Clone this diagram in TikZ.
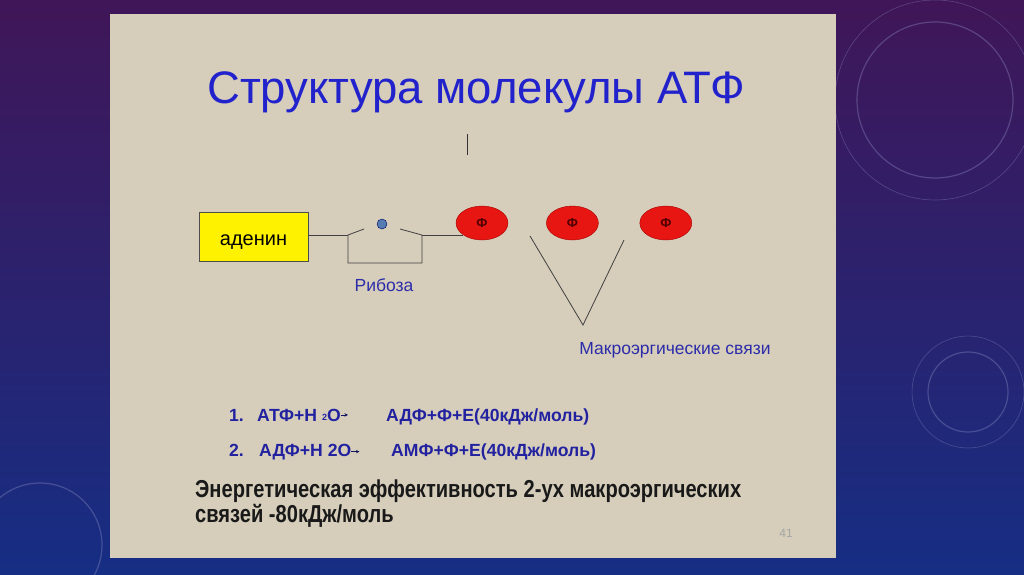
\documentclass[tikz,border=0pt]{standalone}
\usepackage{fontspec}
\setmainfont{Liberation Sans}
\newfontfamily\narrowfont[FakeStretch=0.82]{Liberation Sans}
\usetikzlibrary{positioning,shapes.geometric,arrows.meta}

\definecolor{slidebg}{RGB}{214,206,187}
\definecolor{outertop}{RGB}{64,22,88}
\definecolor{outerbot}{RGB}{22,46,132}
\definecolor{titleblue}{RGB}{34,34,204}
\definecolor{labelblue}{RGB}{44,44,170}
\definecolor{eqblue}{RGB}{34,34,160}
\definecolor{phosred}{RGB}{232,22,18}
\definecolor{ringcol}{RGB}{150,150,200}

\begin{document}
\begin{tikzpicture}[x=1pt,y=-1pt,
        phosphate/.style={
            ellipse, draw = red!65!black, fill = phosred, minimum width = 52pt,
            minimum height = 34pt, inner sep = 0pt, text = red!30!black,
            font = \fontsize{13}{15}\selectfont\bfseries
        },
        bondline/.style={draw = black!75, line width = 0.8pt},
        caption/.style={text = labelblue, inner sep = 0pt, font = \fontsize{17.5}{20}\selectfont},
        eqtext/.style={text = eqblue, inner sep = 0pt, anchor = base west, font = \fontsize{17.6}{20}\selectfont\bfseries},
        ring/.style={draw = ringcol, opacity = 0.35, line width = 1.2pt},
    ]
        \useasboundingbox (0,0) rectangle (1024,574);
        \shade[top color = outertop, bottom color = outerbot] (0,0) rectangle (1024,574);
        % background rings
        \draw[ring] (935,100) circle (78);
        \draw[ring, line width = 0.6pt] (935,100) circle (100);
        \draw[ring] (968,392) circle (40);
        \draw[ring, line width = 0.6pt] (968,392) circle (56);
        \draw[ring] (40,545) circle (62);

        % slide
        \fill[slidebg] (110,14) rectangle (836,558);

        \node (title) [anchor = base, text = titleblue, font = \fontsize{45.5}{50}\selectfont] at (476,103) {Структура молекулы АТФ};
        \coordinate (tickTop) at (467,134);
        \coordinate (tickBot) at (467,155);
        \draw[black!80, line width = 0.8pt] (tickTop) -- (tickBot);

        \node (adenin) [draw = black!70, fill = yellow, minimum width = 109pt, minimum height = 49pt,
            inner sep = 0pt, text height = 17pt, text depth = 0pt,
            font = \fontsize{20}{24}\selectfont] at (253.5,236.5) {аденин};

        % ribose
        \coordinate (ribL) at (348,235);
        \coordinate (ribBL) at (348,263);
        \coordinate (ribBR) at (422,263);
        \coordinate (ribR) at (422,235);
        \coordinate (ribLtip) at (364,229);
        \coordinate (ribRtip) at (400,229);
        \node (oxygen) [circle, draw = blue!40!black, fill = {rgb,255:red,84;green,124;blue,176},
            minimum size = 10pt, inner sep = 0pt] at (382,224) {};
        \node (ribose) [caption] at (384,285) {Рибоза};

        % phosphates
        \node (phosA) [phosphate] at (482,223) {Ф};
        \node (phosB) [phosphate,right=38pt of phosA] {Ф};
        \node (phosC) [phosphate,right=41pt of phosB] {Ф};

        \draw[bondline] (adenin.east |- ribL) -- (ribL);
        \draw[bondline] (ribLtip) -- (ribL) -- (ribBL) -- (ribBR) -- (ribR) -- (ribRtip);
        \draw[bondline] (ribR) -- (ribR -| phosA.south west);

        % high-energy bonds
        \coordinate (bondL) at (530,236);
        \coordinate (bondV) at (583,325);
        \coordinate (bondR) at (624,240);
        \draw[bondline] (bondL) -- (bondV) -- (bondR);
        \node (bonds) [caption] at (675,350) {Макроэргические связи};

        % reactions
        \node (eqOneNum) [eqtext] at (229,421) {1.};
        \node (eqOneLhs) [eqtext] at (257,421) {АТФ+Н {\fontsize{9}{9}\selectfont\raisebox{1pt}{2}}О};
        \coordinate[right=7pt of eqOneLhs.east] (eqOneTip);
        \draw[-{Stealth[length=3.5pt,width=3.5pt]}, eqblue!60!black, line width = 0.8pt] (eqOneLhs.east) -- (eqOneTip);
        \node (eqOneRhs) [eqtext] at (386,421) {АДФ+Ф+Е(40кДж/моль)};

        \node (eqTwoNum) [eqtext] at (229,456) {2.};
        \node (eqTwoLhs) [eqtext] at (259,456) {АДФ+Н 2О};
        \coordinate[right=8pt of eqTwoLhs.east] (eqTwoTip);
        \draw[-{Stealth[length=3.5pt,width=3.5pt]}, eqblue!60!black, line width = 0.8pt] (eqTwoLhs.east) -- (eqTwoTip);
        \node (eqTwoRhs) [eqtext] at (391,456) {АМФ+Ф+Е(40кДж/моль)};

        \node (summary) [anchor = north west, align = left, inner sep = 0pt, text = black!90,
            font = \narrowfont\fontsize{24.5}{25}\selectfont\bfseries] at (195,480)
            {Энергетическая эффективность 2-ух макроэргических\\связей -80кДж/моль};

        \node (pageNum) [text = black!35, font = \fontsize{12}{14}\selectfont] at (786,533) {41};
    \end{tikzpicture}
\end{document}
